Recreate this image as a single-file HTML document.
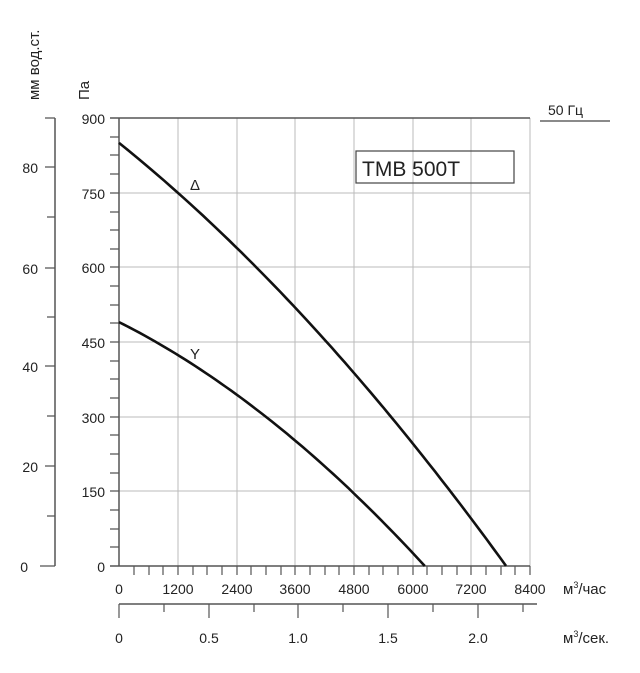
<!DOCTYPE html>
<html><head><meta charset="utf-8"><style>body{margin:0;background:#fff}</style></head><body>
<svg width="640" height="668" xmlns="http://www.w3.org/2000/svg" font-family="Liberation Sans, DejaVu Sans, sans-serif" fill="#222">
<g stroke="#bbb" stroke-width="1">
<line x1="178" y1="118" x2="178" y2="566"/><line x1="237" y1="118" x2="237" y2="566"/><line x1="295" y1="118" x2="295" y2="566"/><line x1="354" y1="118" x2="354" y2="566"/><line x1="413" y1="118" x2="413" y2="566"/><line x1="471" y1="118" x2="471" y2="566"/><line x1="530" y1="118" x2="530" y2="566"/>
<line x1="119" y1="193" x2="530" y2="193"/><line x1="119" y1="267" x2="530" y2="267"/><line x1="119" y1="342" x2="530" y2="342"/><line x1="119" y1="417" x2="530" y2="417"/><line x1="119" y1="491" x2="530" y2="491"/>
</g>
<g stroke="#555" stroke-width="1.5" fill="none">
<line x1="110" y1="118" x2="530" y2="118"/><line x1="110" y1="566" x2="530" y2="566"/>
<line x1="119" y1="118" x2="119" y2="566"/>
<line x1="55" y1="118" x2="55" y2="566"/>
<line x1="119" y1="604" x2="537" y2="604"/>
</g>
<g stroke="#555" stroke-width="1.2">
<path d="M110 137H119M110 155H119M110 174H119M110 212H119M110 230H119M110 249H119M110 286H119M110 305H119M110 323H119M110 361H119M110 379H119M110 398H119M110 435H119M110 454H119M110 473H119M110 510H119M110 529H119M110 547H119M110 193H119M110 267H119M110 342H119M110 417H119M110 491H119"/>
<path d="M45 118H55M45 167H55M47 217H55M45 268H55M47 317H55M45 366H55M47 416H55M45 466H55M47 516H55M40 566H55"/>
<path d="M134 566V575M149 566V575M163 566V575M178 566V575M193 566V575M207 566V575M222 566V575M237 566V575M251 566V575M266 566V575M281 566V575M295 566V575M310 566V575M325 566V575M339 566V575M354 566V575M369 566V575M383 566V575M398 566V575M413 566V575M427 566V575M442 566V575M457 566V575M471 566V575M486 566V575M501 566V575M515 566V575M530 566V575"/>
<path d="M119 604V618M209 604V618M298 604V618M388 604V618M478 604V618M164 604V612M254 604V612M343 604V612M433 604V612M523 604V612"/>
</g>
<g stroke="#111" stroke-width="2.6" fill="none">
<path id="d1"/>
<path id="d2"/>
</g>
<g font-size="14" text-anchor="end">
<text x="105" y="124">900</text><text x="105" y="199">750</text><text x="105" y="273">600</text><text x="105" y="348">450</text><text x="105" y="423">300</text><text x="105" y="497">150</text><text x="105" y="572">0</text>
<text x="38" y="173">80</text><text x="38" y="274">60</text><text x="38" y="372">40</text><text x="38" y="472">20</text><text x="28" y="572">0</text>
</g>
<g font-size="14" text-anchor="middle">
<text x="119" y="594">0</text><text x="178" y="594">1200</text><text x="237" y="594">2400</text><text x="295" y="594">3600</text><text x="354" y="594">4800</text><text x="413" y="594">6000</text><text x="471" y="594">7200</text><text x="530" y="594">8400</text>
<text x="119" y="643">0</text><text x="209" y="643">0.5</text><text x="298" y="643">1.0</text><text x="388" y="643">1.5</text><text x="478" y="643">2.0</text>
</g>
<text x="563" y="594" font-size="15">м<tspan font-size="9" dy="-6">3</tspan><tspan dy="6">/час</tspan></text>
<text x="563" y="643" font-size="15">м<tspan font-size="9" dy="-6">3</tspan><tspan dy="6">/сек.</tspan></text>
<text x="190" y="190" font-size="15">Δ</text><text x="190" y="359" font-size="15">Y</text>
<rect x="356" y="151" width="158" height="32" fill="none" stroke="#444" stroke-width="1.2"/>
<text x="362" y="176" font-size="21">TMB 500T</text>
<text x="548" y="115" font-size="14">50 Гц</text>
<line x1="540" y1="121" x2="610" y2="121" stroke="#444" stroke-width="1.2"/>
<text transform="translate(39,100) rotate(-90)" font-size="15">мм вод.ст.</text>
<text transform="translate(89,100) rotate(-90)" font-size="15">Па</text>
</svg>
<script>
function mk(p0,b,a,qmax){var s="";for(var i=0;i<=60;i++){var q=qmax*i/60;var P=p0-b*q-a*q*q;if(P<0)P=0;var x=119+q*411/8400,y=566-P*448/900;s+=(i?"L":"M")+x.toFixed(1)+" "+y.toFixed(1);}return s;}
document.getElementById("d1").setAttribute("d",mk(850,0.0790,3.595e-6,7910));
document.getElementById("d2").setAttribute("d",mk(490,0.04944,4.634e-6,6250));
</script>
</body></html>
